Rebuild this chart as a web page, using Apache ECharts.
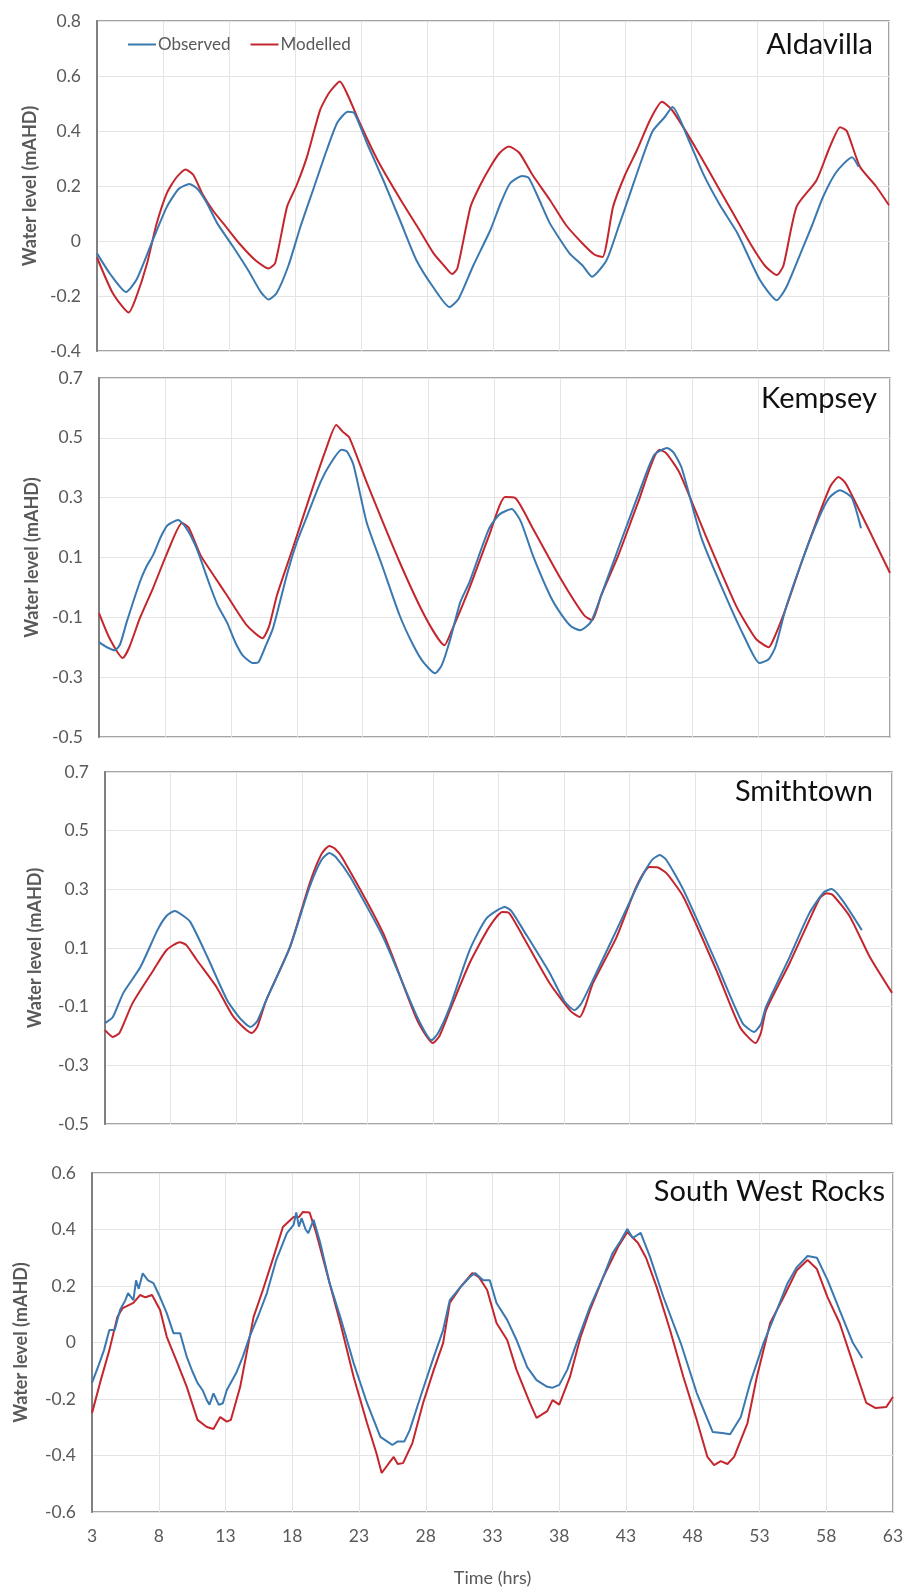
<!DOCTYPE html>
<html>
<head>
<meta charset="utf-8">
<title>Water level comparison</title>
<script src="https://cdn.jsdelivr.net/npm/echarts@6/dist/echarts.min.js"></script>
<style>
  html, body { margin: 0; padding: 0; background: #fff; }
  #chart { width: 907px; height: 1595px; }
</style>
</head>
<body>
<div id="chart"></div>
<script>
// hours / water level (mAHD) pairs
const stations = ['Aldavilla', 'Kempsey', 'Smithtown', 'South West Rocks']
const seriesNames = ['Observed', 'Modelled']
const timeTicks = [3, 8, 13, 18, 23, 28, 33, 38, 43, 48, 53, 58, 63]

const aldavillaObserved = [
  [3, -0.045], [4, -0.12], [5.2, -0.185], [6, -0.14], [7.2, 0.0], [8.3, 0.125], [9.2, 0.19], [10, 0.207],
  [10.6, 0.19], [11.3, 0.14], [12.1, 0.065], [13.3, -0.02], [14.5, -0.11], [15.4, -0.185], [16, -0.213],
  [16.6, -0.19], [17.5, -0.09], [18.4, 0.05], [19.4, 0.19], [20.4, 0.33], [21.2, 0.43], [22, 0.47],
  [22.5, 0.465], [23.5, 0.35], [24.7, 0.22], [26, 0.07], [27.2, -0.07], [28.5, -0.17], [29.7, -0.24],
  [30.4, -0.21], [31.5, -0.09], [32.8, 0.04], [33.6, 0.14], [34.3, 0.21], [35.2, 0.236], [35.7, 0.23],
  [36.5, 0.15], [37.3, 0.065], [38.8, -0.045], [39.8, -0.09], [40.5, -0.13], [41.6, -0.07], [42.5, 0.05],
  [43.4, 0.175], [44.3, 0.3], [45.1, 0.4], [46, 0.45], [46.6, 0.487], [47.8, 0.37], [48.9, 0.247],
  [50.2, 0.13], [51.5, 0.03], [53.2, -0.14], [54.5, -0.215], [55.2, -0.17], [56.3, -0.045], [57.2, 0.06],
  [58, 0.16], [59, 0.25], [60.2, 0.305], [60.7, 0.27]
]
const aldavillaModelled = [
  [3, -0.06], [4.2, -0.19], [5.4, -0.26], [6, -0.2], [6.8, -0.08], [7.5, 0.06], [8.3, 0.175], [9, 0.23],
  [9.7, 0.26], [10.3, 0.24], [11, 0.17], [11.8, 0.11], [12.8, 0.05], [13.8, -0.01], [15, -0.07], [16, -0.1],
  [16.5, -0.08], [17.4, 0.125], [18.1, 0.2], [18.9, 0.305], [19.9, 0.476], [20.6, 0.54], [21.4, 0.58],
  [22, 0.53], [22.9, 0.43], [24.3, 0.29], [26, 0.15], [27.3, 0.05], [28.5, -0.045], [29.3, -0.09],
  [29.9, -0.12], [30.3, -0.1], [31.3, 0.125], [32, 0.2], [32.8, 0.27], [33.5, 0.32], [34.2, 0.344],
  [35, 0.32], [36, 0.24], [37.3, 0.15], [38.5, 0.06], [39.8, -0.01], [40.7, -0.05], [41.3, -0.058],
  [42.1, 0.125], [43, 0.24], [43.9, 0.33], [44.9, 0.44], [45.8, 0.506], [46.5, 0.48], [47.4, 0.415],
  [48.7, 0.31], [50, 0.2], [51.2, 0.1], [52.5, -0.01], [53.6, -0.09], [54.5, -0.124], [55, -0.09],
  [56, 0.125], [57.5, 0.22], [58.5, 0.34], [59.3, 0.414], [59.8, 0.4], [60.8, 0.27], [62, 0.2], [63, 0.13]
]

const kempseyObserved = [
  [3, -0.183], [3.6, -0.2], [4.2, -0.21], [4.6, -0.19], [5.1, -0.116], [6.1, 0.018], [6.6, 0.07],
  [7.1, 0.108], [7.7, 0.17], [8.2, 0.208], [9, 0.225], [9.6, 0.2], [10.4, 0.131], [11.4, 0.008],
  [12, -0.06], [12.7, -0.116], [13.3, -0.18], [13.9, -0.227], [14.7, -0.253], [15.1, -0.25], [15.6, -0.2],
  [16.2, -0.136], [17.3, 0.05], [18, 0.15], [18.8, 0.24], [19.8, 0.352], [20.5, 0.41], [21.4, 0.46],
  [21.8, 0.455], [22.3, 0.41], [23.3, 0.218], [24.5, 0.07], [25.8, -0.093], [26.8, -0.19], [27.6, -0.25],
  [28.5, -0.287], [29, -0.26], [29.6, -0.18], [30.4, -0.05], [31.1, 0.018], [32.6, 0.198], [33.4, 0.245],
  [34.3, 0.262], [35, 0.22], [35.9, 0.108], [37.2, -0.026], [38, -0.086], [38.8, -0.13], [39.5, -0.143],
  [40.3, -0.116], [41.1, -0.026], [42.4, 0.131], [43.9, 0.309], [45.1, 0.442], [46.1, 0.466], [46.6, 0.45],
  [47.2, 0.399], [48.7, 0.165], [50.5, -0.026], [52, -0.17], [53.1, -0.253], [53.8, -0.24], [54.3, -0.2],
  [55.1, -0.069], [56.3, 0.085], [57.6, 0.232], [58.4, 0.3], [59.2, 0.325], [60.1, 0.3], [60.8, 0.198]
]
const kempseyModelled = [
  [3, -0.086], [3.8, -0.17], [4.8, -0.236], [5.3, -0.2], [6.1, -0.103], [7.1, -0.002], [8.2, 0.118],
  [9.3, 0.215], [9.8, 0.2], [10.7, 0.108], [11.7, 0.04], [12.7, -0.026], [14.2, -0.126], [15.4, -0.17],
  [15.9, -0.13], [16.5, -0.026], [17.7, 0.131], [19.2, 0.332], [20.2, 0.46], [21, 0.543], [21.5, 0.52],
  [22, 0.5], [23.3, 0.352], [25.8, 0.085], [27.8, -0.103], [29.2, -0.193], [29.7, -0.15], [31.1, -0.002],
  [32.6, 0.175], [33.8, 0.302], [34.6, 0.298], [35.9, 0.198], [38, 0.031], [39.8, -0.093], [40.4, -0.11],
  [41.1, -0.026], [42.4, 0.108], [43.9, 0.285], [45.5, 0.46], [46, 0.45], [47, 0.386], [49, 0.175],
  [51.3, -0.059], [52.8, -0.17], [53.8, -0.2], [54.2, -0.17], [55.1, -0.07], [56.3, 0.085], [57.6, 0.242],
  [58.5, 0.34], [59.1, 0.369], [59.6, 0.35], [60.1, 0.309], [61.6, 0.175], [63, 0.048]
]

const smithtownObserved = [
  [3, -0.156], [3.6, -0.135], [4.4, -0.053], [5.7, 0.035], [7, 0.161], [7.7, 0.21], [8.3, 0.226],
  [8.8, 0.215], [9.5, 0.189], [10.8, 0.07], [12.3, -0.077], [13.3, -0.14], [14.1, -0.169], [14.6, -0.15],
  [15.3, -0.077], [17.1, 0.103], [18.6, 0.308], [19.5, 0.4], [20.1, 0.424], [20.6, 0.41], [21.7, 0.342],
  [24.2, 0.137], [26.8, -0.135], [27.9, -0.214], [28.4, -0.19], [29.3, -0.1], [30.8, 0.093], [32.1, 0.202],
  [33.5, 0.24], [34, 0.225], [34.9, 0.161], [36.9, 0.015], [38, -0.08], [38.8, -0.112], [39.3, -0.09],
  [40.2, -0.009], [42, 0.161], [43.8, 0.332], [44.7, 0.4], [45.3, 0.417], [45.8, 0.4], [47.1, 0.298],
  [49.6, 0.049], [51.6, -0.156], [52.5, -0.186], [53, -0.16], [53.4, -0.1], [55.2, 0.07], [56.7, 0.219],
  [57.8, 0.29], [58.4, 0.301], [59.2, 0.264], [60.7, 0.161]
]
const smithtownModelled = [
  [3, -0.18], [3.6, -0.203], [4.1, -0.19], [5.1, -0.088], [6.7, 0.025], [7.7, 0.093], [8.7, 0.12],
  [9.2, 0.11], [10, 0.059], [11.5, -0.033], [12.8, -0.135], [14.2, -0.19], [14.6, -0.17], [15.3, -0.077],
  [17.1, 0.103], [18.6, 0.32], [19.5, 0.42], [20.1, 0.448], [20.5, 0.44], [21.1, 0.407], [24.2, 0.151],
  [26.8, -0.146], [28, -0.224], [28.5, -0.2], [29.3, -0.112], [30.8, 0.049], [32.3, 0.172], [33.3, 0.223],
  [33.8, 0.22], [34.9, 0.137], [36.9, -0.02], [38.5, -0.115], [39.2, -0.135], [39.6, -0.1], [40.2, -0.02],
  [42, 0.137], [43.5, 0.308], [44.5, 0.376], [45.1, 0.375], [45.8, 0.355], [47.1, 0.274], [49.6, 0.025],
  [51.4, -0.169], [52.6, -0.224], [53, -0.19], [53.4, -0.112], [55.2, 0.049], [56.7, 0.195], [57.5, 0.27],
  [58, 0.287], [58.5, 0.28], [59.8, 0.206], [61.3, 0.07], [63, -0.053]
]

const swRocksObserved = [
  [3, -0.143], [3.5, -0.08], [3.9, -0.027], [4.3, 0.044], [4.7, 0.044], [5.1, 0.115], [5.5, 0.15],
  [5.7, 0.175], [6.1, 0.15], [6.3, 0.22], [6.5, 0.19], [6.8, 0.245], [7.2, 0.22], [7.6, 0.21], [8.1, 0.16],
  [8.6, 0.104], [9.1, 0.033], [9.6, 0.033], [10.1, -0.051], [10.5, -0.1], [10.9, -0.143], [11.3, -0.17],
  [11.6, -0.204], [11.8, -0.22], [12.1, -0.18], [12.5, -0.221], [12.8, -0.215], [13.1, -0.168],
  [13.8, -0.108], [14.3, -0.05], [14.8, 0.02], [15.5, 0.1], [16.1, 0.175], [16.8, 0.292], [17.6, 0.387],
  [18.1, 0.416], [18.3, 0.46], [18.5, 0.41], [18.7, 0.44], [19, 0.4], [19.2, 0.387], [19.6, 0.434],
  [20.1, 0.352], [20.8, 0.21], [21.6, 0.09], [22.6, -0.073], [23.6, -0.214], [24.6, -0.334], [25.1, -0.35],
  [25.5, -0.363], [25.9, -0.35], [26.4, -0.35], [26.8, -0.31], [27.6, -0.193], [28.6, -0.051],
  [29.3, 0.044], [29.8, 0.15], [30.6, 0.196], [31.3, 0.232], [31.7, 0.246], [32.3, 0.22], [32.8, 0.22],
  [33.3, 0.14], [34.1, 0.08], [34.8, 0.009], [35.6, -0.087], [36.3, -0.133], [37.1, -0.157], [37.5, -0.16],
  [38, -0.15], [38.6, -0.097], [39.3, -0.002], [40.3, 0.126], [41.3, 0.232], [42, 0.317], [42.6, 0.36],
  [43.1, 0.402], [43.5, 0.37], [44.1, 0.388], [44.8, 0.303], [45.8, 0.161], [47.1, -0.002], [48.3, -0.179],
  [49.5, -0.317], [50.2, -0.32], [50.8, -0.325], [51.6, -0.264], [52.3, -0.143], [53.3, -0.002],
  [54.3, 0.115], [55.1, 0.21], [55.8, 0.267], [56.6, 0.306], [57.3, 0.3], [58.1, 0.221], [59, 0.115],
  [60, -0.002], [60.7, -0.055]
]
const swRocksModelled = [
  [3, -0.25], [3.6, -0.143], [4.3, -0.027], [4.9, 0.09], [5.3, 0.122], [6.1, 0.14], [6.6, 0.168], [7, 0.16],
  [7.5, 0.168], [8.1, 0.115], [8.6, 0.02], [9.4, -0.073], [10.1, -0.157], [10.9, -0.274], [11.6, -0.299],
  [12.1, -0.306], [12.6, -0.264], [13.1, -0.28], [13.4, -0.274], [14.1, -0.157], [15.1, 0.09], [15.8, 0.186],
  [16.6, 0.303], [17.3, 0.409], [18.1, 0.444], [18.5, 0.444], [18.8, 0.462], [19.3, 0.46], [19.8, 0.387],
  [20.8, 0.21], [21.6, 0.069], [22.6, -0.122], [23.6, -0.285], [24.3, -0.391], [24.7, -0.462], [25.2, -0.43],
  [25.6, -0.405], [25.9, -0.43], [26.3, -0.427], [27, -0.356], [27.8, -0.214], [28.6, -0.097], [29.3, -0.002],
  [29.8, 0.14], [30.6, 0.196], [31.5, 0.246], [32, 0.23], [32.6, 0.186], [33.3, 0.069], [34.1, 0.009],
  [34.8, -0.097], [35.8, -0.214], [36.3, -0.267], [37.1, -0.243], [37.5, -0.204], [38, -0.22], [38.8, -0.122],
  [39.6, 0.02], [40.3, 0.115], [41.3, 0.232], [42.4, 0.338], [43.1, 0.391], [43.9, 0.352], [44.5, 0.3],
  [45.3, 0.196], [46.3, 0.044], [47.3, -0.122], [48.3, -0.274], [49.1, -0.405], [49.6, -0.434], [50.1, -0.42],
  [50.6, -0.43], [51.1, -0.405], [52.1, -0.285], [52.8, -0.122], [53.8, 0.069], [54.8, 0.16], [55.8, 0.256],
  [56.6, 0.292], [57.3, 0.26], [58.1, 0.16], [59, 0.069], [60, -0.073], [61, -0.214], [61.7, -0.232],
  [62.5, -0.228], [63, -0.193]
]

const yRanges = [[-0.4, 0.8], [-0.5, 0.7], [-0.5, 0.7], [-0.6, 0.6]]
const panelData = [
  [aldavillaObserved, aldavillaModelled],
  [kempseyObserved, kempseyModelled],
  [smithtownObserved, smithtownModelled],
  [swRocksObserved, swRocksModelled]
]

const FONT = 'Lato, "Open Sans", sans-serif'
const GREY = '#595959'
const COLORS = ['#3A78B0', '#C4262E']

const boxes = [
  { left: 97, top: 21, width: 792, height: 330, nameGap: 51, title: { right: 34, top: 30 } },
  { left: 99, top: 378, width: 791, height: 359, nameGap: 52, title: { right: 30, top: 384 } },
  { left: 105, top: 772, width: 787, height: 352, nameGap: 61, title: { right: 34, top: 777 } },
  { left: 92, top: 1173, width: 801, height: 339, nameGap: 62, title: { right: 22, top: 1177 } }
]

const chart = echarts.init(document.getElementById('chart'), null, { renderer: 'canvas' })

const grid = boxes.map((b) => ({
  left: b.left,
  top: b.top,
  width: b.width,
  height: b.height,
  show: true,
  borderColor: '#858585',
  borderWidth: 1.5,
  backgroundColor: '#fff'
}))

const xAxis = boxes.map((b, i) => {
  const last = i === boxes.length - 1
  return {
    type: 'value',
    gridIndex: i,
    min: timeTicks[0],
    max: timeTicks[timeTicks.length - 1],
    interval: 5,
    axisLine: { show: false },
    axisTick: { show: false },
    axisLabel: { show: last, color: GREY, fontSize: 17.5, fontFamily: FONT, margin: 15 },
    splitLine: { show: true, lineStyle: { color: '#E4E4E4', width: 1 } },
    name: last ? 'Time (hrs)' : '',
    nameLocation: 'middle',
    nameGap: 57,
    nameTextStyle: { color: GREY, fontSize: 18, fontFamily: FONT }
  }
})

const yAxis = boxes.map((b, i) => ({
  type: 'value',
  gridIndex: i,
  min: yRanges[i][0],
  max: yRanges[i][1],
  interval: 0.2,
  axisLine: { show: true, lineStyle: { color: '#808080', width: 2 } },
  axisTick: { show: false },
  axisLabel: { color: GREY, fontSize: 17.5, fontFamily: FONT, margin: 16 },
  splitLine: { show: true, lineStyle: { color: '#E4E4E4', width: 1 } },
  name: 'Water level (mAHD)',
  nameLocation: 'middle',
  nameRotate: 90,
  nameGap: b.nameGap,
  nameTextStyle: { color: GREY, fontSize: 18, fontWeight: 'bold', fontFamily: FONT }
}))

const title = stations.map((s, i) => ({
  text: s,
  right: boxes[i].title.right,
  top: boxes[i].title.top,
  padding: 0,
  textStyle: { color: '#111', fontSize: 29, fontWeight: 'normal', fontFamily: FONT }
}))

const series = []
panelData.forEach((pair, i) => {
  pair.forEach((data, k) => {
    series.push({
      name: seriesNames[k],
      type: 'line',
      xAxisIndex: i,
      yAxisIndex: i,
      data: data,
      showSymbol: false,
      symbol: 'none',
      smooth: i === 3 ? false : 0.2,
      z: k === 0 ? 3 : 2,
      lineStyle: { color: COLORS[k], width: 2 },
      itemStyle: { color: COLORS[k] }
    })
  })
})

chart.setOption({
  animation: false,
  backgroundColor: '#fff',
  title,
  legend: {
    data: seriesNames,
    left: 123,
    top: 31,
    icon: 'rect',
    itemWidth: 28,
    itemHeight: 2,
    itemGap: 20,
    textStyle: { color: GREY, fontSize: 17, fontFamily: FONT, padding: [0, 0, 0, -3] }
  },
  grid,
  xAxis,
  yAxis,
  series
})
</script>
</body>
</html>
